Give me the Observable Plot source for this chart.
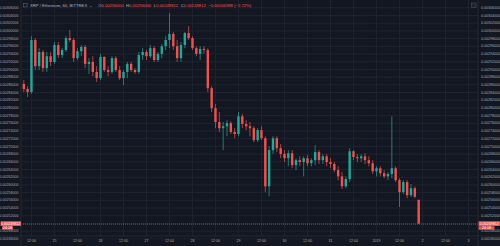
<!DOCTYPE html>
<html><head><meta charset="utf-8">
<script src="https://cdn.jsdelivr.net/npm/d3@7"></script>
<script src="https://cdn.jsdelivr.net/npm/@observablehq/plot@0.6"></script>
<style>
html,body{margin:0;padding:0;background:#131722;}
#chart{width:500px;height:246px;overflow:hidden;}
</style></head><body><div id="chart"></div>
<script>
const title = "XRP / Ethereum, 60, BITTREX";
const startTime = "2018-12-24T08:00:00Z";
const stepHours = 2;
const open = [0.002861,0.002848,0.002840,0.002975,0.002907,0.002944,0.002902,0.002933,0.002918,0.002962,
0.002936,0.002949,0.002980,0.002975,0.002928,0.002946,0.002957,0.002913,0.002918,0.002892,
0.002876,0.002931,0.002897,0.002892,0.002928,0.002897,0.002876,0.002892,0.002913,0.002897,
0.002892,0.002936,0.002944,0.002933,0.002954,0.002923,0.002939,0.002959,0.002975,0.002991,
0.002959,0.002928,0.002962,0.002993,0.002980,0.002954,0.002939,0.002952,0.002949,0.002850,
0.002798,0.002762,0.002746,0.002751,0.002759,0.002736,0.002731,0.002777,0.002757,0.002751,
0.002746,0.002715,0.002741,0.002720,0.002595,0.002689,0.002720,0.002694,0.002679,0.002668,
0.002681,0.002650,0.002663,0.002658,0.002668,0.002655,0.002663,0.002684,0.002663,0.002673,
0.002658,0.002653,0.002637,0.002621,0.002595,0.002614,0.002686,0.002671,0.002668,0.002673,
0.002663,0.002655,0.002634,0.002642,0.002629,0.002621,0.002627,0.002642,0.002611,0.002580,
0.002606,0.002572,0.002590,0.002560];
const high = [0.002871,0.002855,0.002985,0.002980,0.002954,0.002949,0.002944,0.002944,0.002970,0.002970,
0.002954,0.002985,0.003001,0.002980,0.002954,0.002962,0.002962,0.002928,0.002933,0.002907,
0.002939,0.002933,0.002907,0.002933,0.002933,0.002907,0.002897,0.002918,0.002918,0.002902,
0.002944,0.002954,0.002949,0.002962,0.002959,0.002944,0.002965,0.002985,0.003045,0.002996,
0.002975,0.002970,0.002996,0.003011,0.002985,0.002959,0.002959,0.002959,0.002954,0.002855,
0.002809,0.002788,0.002762,0.002767,0.002764,0.002746,0.002788,0.002783,0.002767,0.002762,
0.002751,0.002746,0.002751,0.002725,0.002699,0.002725,0.002725,0.002705,0.002689,0.002689,
0.002689,0.002668,0.002673,0.002673,0.002676,0.002668,0.002702,0.002689,0.002679,0.002679,
0.002668,0.002658,0.002647,0.002632,0.002621,0.002694,0.002689,0.002679,0.002679,0.002681,
0.002673,0.002663,0.002647,0.002647,0.002637,0.002632,0.002777,0.002647,0.002616,0.002611,
0.002611,0.002601,0.002595,0.002560];
const low = [0.002840,0.002827,0.002835,0.002897,0.002897,0.002892,0.002892,0.002907,0.002913,0.002928,
0.002928,0.002944,0.002970,0.002918,0.002923,0.002933,0.002902,0.002887,0.002881,0.002866,
0.002871,0.002892,0.002881,0.002887,0.002892,0.002871,0.002858,0.002876,0.002892,0.002887,
0.002887,0.002923,0.002923,0.002928,0.002918,0.002918,0.002928,0.002949,0.002954,0.002949,
0.002918,0.002918,0.002954,0.002975,0.002949,0.002933,0.002923,0.002939,0.002840,0.002788,
0.002746,0.002736,0.002689,0.002725,0.002731,0.002720,0.002725,0.002746,0.002741,0.002725,
0.002710,0.002710,0.002715,0.002580,0.002569,0.002679,0.002684,0.002668,0.002658,0.002647,
0.002642,0.002637,0.002647,0.002621,0.002647,0.002647,0.002650,0.002653,0.002653,0.002647,
0.002642,0.002632,0.002611,0.002588,0.002590,0.002606,0.002663,0.002658,0.002658,0.002653,
0.002647,0.002627,0.002621,0.002621,0.002616,0.002611,0.002616,0.002606,0.002541,0.002575,
0.002564,0.002567,0.002564,0.00249812];
const close = [0.002848,0.002840,0.002975,0.002907,0.002944,0.002902,0.002933,0.002918,0.002962,0.002936,
0.002949,0.002980,0.002975,0.002928,0.002946,0.002957,0.002913,0.002918,0.002892,0.002876,
0.002931,0.002897,0.002892,0.002928,0.002897,0.002876,0.002892,0.002913,0.002897,0.002892,
0.002936,0.002944,0.002933,0.002954,0.002923,0.002939,0.002959,0.002975,0.002991,0.002959,
0.002928,0.002962,0.002993,0.002980,0.002954,0.002939,0.002952,0.002949,0.002850,0.002798,
0.002762,0.002746,0.002751,0.002759,0.002736,0.002731,0.002777,0.002757,0.002751,0.002746,
0.002715,0.002741,0.002720,0.002595,0.002689,0.002720,0.002694,0.002679,0.002668,0.002681,
0.002650,0.002663,0.002658,0.002668,0.002655,0.002663,0.002684,0.002663,0.002673,0.002658,
0.002653,0.002637,0.002621,0.002595,0.002614,0.002686,0.002671,0.002668,0.002673,0.002663,
0.002655,0.002634,0.002642,0.002629,0.002621,0.002627,0.002642,0.002611,0.002580,0.002606,
0.002572,0.002590,0.002568,0.00249812];
const priceTicks = [0.00246,0.00248,0.00250,0.00252,0.00254,0.00256,0.00258,0.00260,0.00262,0.00264,
0.00266,0.00268,0.00270,0.00272,0.00274,0.00276,0.00278,0.00280,0.00282,0.00284,
0.00286,0.00288,0.00290,0.00292,0.00294,0.00296,0.00298,0.00300,0.00302,0.00304,0.00306];
const timeTicks = ["2018-12-24T12:00Z","2018-12-25T00:00Z","2018-12-25T12:00Z","2018-12-26T00:00Z","2018-12-26T12:00Z",
"2018-12-27T00:00Z","2018-12-27T12:00Z","2018-12-28T00:00Z","2018-12-28T12:00Z","2018-12-29T00:00Z",
"2018-12-29T12:00Z","2018-12-30T00:00Z","2018-12-30T12:00Z","2018-12-31T00:00Z","2018-12-31T12:00Z",
"2019-01-01T00:00Z","2019-01-01T12:00Z","2019-01-02T00:00Z","2019-01-02T12:00Z","2019-01-03T00:00Z"];
const timeLabels = ["12:00","25","12:00","26","12:00","27","12:00","28","12:00","29",
"12:00","30","12:00","31","12:00","2019","12:00","2","12:00","3"];
const countdown = "24:18";

const up = "#26a69a", down = "#ef5350";
const candles = open.map((o, i) => ({
  date: d3.utcHour.offset(new Date(startTime), i * stepHours),
  open: o, high: high[i], low: low[i], close: close[i]
}));
const ups = candles.filter(d => d.close >= d.open);
const downs = candles.filter(d => d.close < d.open);
const tickDates = timeTicks.map(s => new Date(s));
const labelOf = new Map(tickDates.map((d, i) => [+d, timeLabels[i]]));
const last = candles[candles.length - 1];
const prev = candles[candles.length - 2];
const fmt = d3.format(".8f");
const fs = 3.6;
const axisFill = "#a3a6af";
const gridC = "#1f2330";
const yDomain = [0.002466, 0.003079];
// labels hidden under the last-price tag
const pxPerUnit = 236 / (yDomain[1] - yDomain[0]);
const labelTicks = priceTicks.filter(v => Math.abs(v - last.close) * pxPerUnit > 4.5);

const plot = Plot.plot({
  width: 500, height: 246,
  marginLeft: 21, marginRight: 22, marginTop: 0, marginBottom: 10,
  style: {background: "#131722", color: axisFill, fontFamily: "'Liberation Sans', Arial, sans-serif"},
  x: {type: "utc", domain: [new Date("2018-12-24T06:48:00Z"), new Date("2019-01-03T05:13:00Z")]},
  y: {domain: yDomain},
  marks: [
    Plot.gridX(tickDates, {stroke: gridC, strokeOpacity: 1}),
    Plot.gridY(priceTicks, {stroke: gridC, strokeOpacity: 1}),
    Plot.ruleY([last.close], {stroke: down, strokeDasharray: "1,1", strokeWidth: 0.7}),
    Plot.ruleX(ups, {x: "date", y1: "low", y2: "high", stroke: up, strokeWidth: 0.7}),
    Plot.ruleX(downs, {x: "date", y1: "low", y2: "high", stroke: down, strokeWidth: 0.7}),
    Plot.ruleX(ups, {x: "date", y1: "open", y2: "close", stroke: up, strokeWidth: 2.4}),
    Plot.ruleX(downs, {x: "date", y1: "open", y2: "close", stroke: down, strokeWidth: 2.4}),
    Plot.axisY(labelTicks, {anchor: "right", tickSize: 0, tickPadding: 2.5, tickFormat: fmt, fontSize: fs, fill: axisFill, label: null}),
    Plot.axisY(labelTicks, {anchor: "left", tickSize: 0, tickPadding: 3, tickFormat: fmt, fontSize: fs, fill: axisFill, label: null}),
    Plot.axisX(tickDates, {anchor: "bottom", tickSize: 0, tickPadding: 2.5, tickFormat: d => labelOf.get(+d), fontSize: fs, fill: axisFill, label: null})
  ]
});
document.getElementById("chart").appendChild(plot);

const svg = d3.select(plot);
const ys = plot.scale("y");
const yc = ys.apply(last.close);
const g = svg.append("g").attr("text-anchor", "start");
const FF = "'Liberation Sans', Arial, sans-serif";
// panel dividers
g.append("line").attr("x1", 21).attr("x2", 21).attr("y1", 0).attr("y2", 246).attr("stroke", "#2a2e39").attr("stroke-width", 0.8);
g.append("line").attr("x1", 478).attr("x2", 478).attr("y1", 0).attr("y2", 246).attr("stroke", "#2a2e39").attr("stroke-width", 0.8);
g.append("line").attr("x1", 0).attr("x2", 500).attr("y1", 236).attr("y2", 236).attr("stroke", "#2a2e39").attr("stroke-width", 0.8);
// price tags
function tag(x, w, y, h, txt) {
  g.append("rect").attr("x", x).attr("y", y).attr("width", w).attr("height", h).attr("fill", down).attr("rx", 0.5);
  g.append("text").attr("x", x + w / 2).attr("y", y + h / 2).attr("dy", "0.35em").attr("text-anchor", "middle")
    .attr("font-size", fs).attr("fill", "#ffffff").attr("font-family", FF).text(txt);
}
tag(478.5, 21.5, yc - 2.4, 4.8, fmt(last.close));
tag(478.5, 16, yc + 2.5, 3.6, countdown);
tag(0.5, 20.5, yc - 2.4, 4.8, fmt(last.close));
tag(2, 11, yc + 2.5, 3.6, countdown);
// header
g.append("rect").attr("x", 23.5).attr("y", 3.3).attr("width", 3.6).attr("height", 3.6).attr("fill", "none").attr("stroke", "#6a6d78").attr("stroke-width", 0.5);
const t = g.append("text").attr("x", 30).attr("y", 6.8).attr("font-size", 4.2).attr("fill", "#b2b5be")
  .attr("text-anchor", "start").attr("font-family", FF);
t.append("tspan").text(title + "  \u2013  ");
const chg = last.close - prev.close;
const parts = [["O", fmt(last.open)], ["H", fmt(last.high)], ["L", fmt(last.low)], ["C", fmt(last.close)]];
parts.forEach(([k, v], i) => {
  t.append("tspan").attr("dx", i ? 2.5 : 4).text(k);
  t.append("tspan").attr("fill", down).text(v);
});
t.append("tspan").attr("dx", 2.5).attr("fill", down)
  .text(fmt(chg) + " (" + d3.format(".2f")(chg / prev.close * 100) + "%)");
// settings icon
g.append("rect").attr("x", 471.5).attr("y", 3).attr("width", 4.5).attr("height", 4.5).attr("fill", "#1e222d").attr("stroke", "#555965").attr("stroke-width", 0.5);
</script></body></html>
